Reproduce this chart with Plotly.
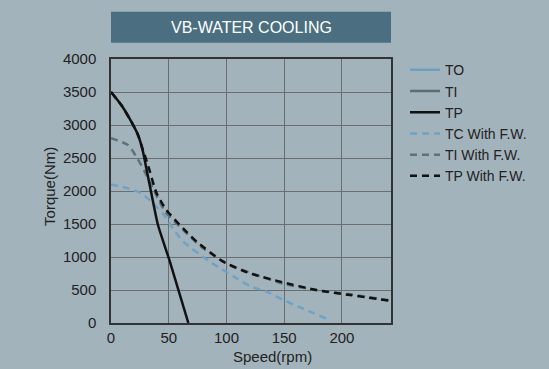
import plotly.graph_objects as go

# Data
tp_speed = [0, 8.9, 17.6, 23.4, 27.7, 30.6, 33.5, 36.4, 40.7, 51, 67]
tp_torque = [3500, 3303, 3050, 2848, 2596, 2343, 2091, 1838, 1485, 930, 0]

tpfw_speed = [0, 8.9, 17.6, 23.4, 27.7, 32, 39.5, 47.9, 56.9, 65.2, 74.2, 97.2, 120.3, 149.2, 178, 207, 242]
tpfw_torque = [3500, 3303, 3050, 2848, 2620, 2394, 1965, 1712, 1535, 1384, 1232, 929, 753, 615, 500, 424, 335]

tifw_speed = [0, 14.7, 21.9, 29.2, 39.2, 46.8, 62.6, 79.8, 103, 126.1, 149.2, 178, 207, 242]
tifw_torque = [2800, 2697, 2520, 2293, 1939, 1687, 1409, 1131, 879, 727, 595, 497, 435, 340]

tcfw_speed = [0, 14.7, 26.2, 36.4, 45.3, 53.7, 62.6, 85.7, 108.8, 120.3, 134.8, 149.2, 163.6, 187]
tcfw_torque = [2100, 2040, 1965, 1814, 1650, 1434, 1232, 929, 677, 561, 474, 348, 239, 61]

# TO / TI (solid) are hidden in the reference; only their legend entries show
to_speed = [0]
to_torque = [3500]
ti_speed = [0]
ti_torque = [3500]

x_ticks = [0, 50, 100, 150, 200]
y_ticks = [0, 500, 1000, 1500, 2000, 2500, 3000, 3500, 4000]

BG = "#a3b3bc"
FONT = "Liberation Sans, Arial, sans-serif"
DASH = "7px,5px"

fig = go.Figure()
fig.add_trace(go.Scatter(x=to_speed, y=to_torque, mode="lines", name="TO", legendrank=1,
                         line=dict(color="#6f9fc0", width=2.5)))
fig.add_trace(go.Scatter(x=ti_speed, y=ti_torque, mode="lines", name="TI", legendrank=2,
                         line=dict(color="#5b6e74", width=2.5)))
fig.add_trace(go.Scatter(x=tcfw_speed, y=tcfw_torque, mode="lines", name="TC With F.W.",
                         line=dict(color="#6fa3c6", width=2.5, dash=DASH, shape="spline", smoothing=0.6),
                         legendrank=4))
fig.add_trace(go.Scatter(x=tifw_speed, y=tifw_torque, mode="lines", name="TI With F.W.",
                         line=dict(color="#5e7278", width=2.5, dash=DASH, shape="spline", smoothing=0.6),
                         legendrank=5))
fig.add_trace(go.Scatter(x=tpfw_speed, y=tpfw_torque, mode="lines", name="TP With F.W.",
                         line=dict(color="#111111", width=2.5, dash=DASH, shape="spline", smoothing=0.6),
                         legendrank=6))
fig.add_trace(go.Scatter(x=tp_speed, y=tp_torque, mode="lines", name="TP",
                         line=dict(color="#111111", width=2.5, shape="spline", smoothing=0.6),
                         legendrank=3))

fig.update_layout(
    width=549, height=369,
    margin=dict(l=111, r=158, t=59, b=46),
    paper_bgcolor=BG, plot_bgcolor=BG,
    font=dict(family=FONT, size=15, color="#222222"),
    showlegend=True,
    legend=dict(x=1.05, y=1.018, xanchor="left", yanchor="top", bgcolor="rgba(0,0,0,0)",
                font=dict(size=14, color="#222222"), tracegroupgap=0, itemwidth=30),
    xaxis=dict(range=[0, 242.5], tickvals=x_ticks, showgrid=True, gridcolor="#6b6e70",
               gridwidth=1, showline=True, linecolor="#333333", linewidth=1.5, mirror=True,
               zeroline=False, ticks="", ticklabelstandoff=0),
    yaxis=dict(range=[0, 4000], tickvals=y_ticks, showgrid=True, gridcolor="#6b6e70",
               gridwidth=1, showline=True, linecolor="#333333", linewidth=1.5, mirror=True,
               zeroline=False, ticks="", ticklabelstandoff=10),
    shapes=[dict(type="rect", xref="paper", yref="paper", x0=0, x1=1, y0=1.062, y1=1.179,
                 fillcolor="#4b6f80", line=dict(width=0))],
    annotations=[
        dict(text="VB-WATER COOLING", xref="paper", yref="paper", x=0.5, y=1.12,
             showarrow=False, font=dict(size=16, color="white"), xanchor="center", yanchor="middle"),
        dict(text="Speed(rpm)", xref="paper", yref="paper", x=0.575, y=-0.128,
             showarrow=False, font=dict(size=15), xanchor="center", yanchor="middle"),
        dict(text="Torque(Nm)", xref="paper", yref="paper", x=-0.22, y=0.517,
             showarrow=False, font=dict(size=15), textangle=-90, xanchor="center", yanchor="middle"),
    ],
)

fig.write_html("out.html", config={"displayModeBar": False},
               post_script="document.body.style.margin='0';")
